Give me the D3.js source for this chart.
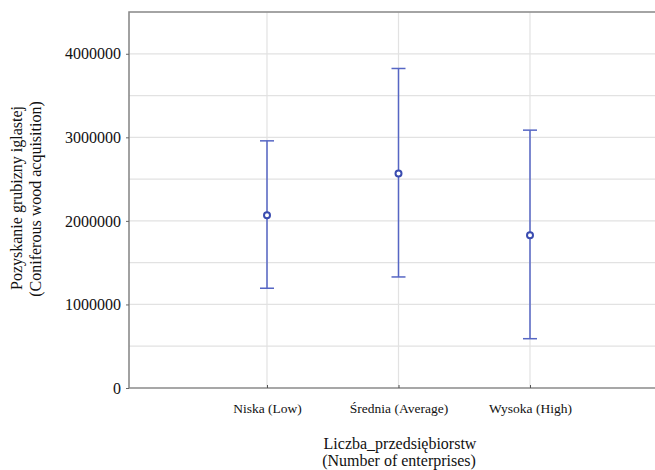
<!DOCTYPE html>
<html>
<head>
<meta charset="utf-8">
<script src="https://cdn.jsdelivr.net/npm/d3@7"></script>
</head>
<body style="margin:0;background:#fff">
<div id="chart"></div>
<script>
// Data
const categories = ["Niska (Low)", "Średnia (Average)", "Wysoka (High)"];
const means = [2068000, 2566000, 1829000];
const lower = [1194000, 1329000, 590000];
const upper = [2958000, 3824000, 3086000];
const yTicks = [0, 1000000, 2000000, 3000000, 4000000];
const yGrid = d3.range(500000, 4500001, 500000);

const width = 655;
const height = 470;
const margin = { top: 12, bottom: 82, left: 129 };
const serif = "Liberation Serif";

const svg = d3.select("#chart").append("svg")
    .attr("width", width)
    .attr("height", height);

const y = d3.scaleLinear()
    .domain([0, 4500000])
    .range([height - margin.bottom, margin.top]);

const x = d3.scalePoint()
    .domain(categories)
    .range([267, 530]);

// grid
svg.append("g").selectAll("line")
    .data(yGrid)
    .enter().append("line")
    .attr("x1", margin.left).attr("x2", width)
    .attr("y1", d => y(d)).attr("y2", d => y(d))
    .attr("stroke", "#e2e2e2").attr("stroke-width", 1.2);

svg.append("g").selectAll("line")
    .data(categories)
    .enter().append("line")
    .attr("x1", d => x(d)).attr("x2", d => x(d))
    .attr("y1", margin.top).attr("y2", y(0))
    .attr("stroke", "#e2e2e2").attr("stroke-width", 1.2);

// frame (right side runs off the picture)
svg.append("path")
    .attr("d", `M${width + 2},${margin.top}H${margin.left}V${y(0)}H${width + 2}`)
    .attr("fill", "none")
    .attr("stroke", "#8a8a8a")
    .attr("stroke-width", 1.6);

// axes
const yAxis = svg.append("g")
    .attr("transform", `translate(${margin.left},0)`)
    .call(d3.axisLeft(y).tickValues(yTicks).tickFormat(d3.format("d")).tickSize(3).tickPadding(5));
yAxis.select(".domain").remove();
yAxis.selectAll(".tick line").attr("stroke", "#666");
yAxis.selectAll("text")
    .attr("font-family", serif).attr("font-size", 16).attr("fill", "#111");

const xAxis = svg.append("g")
    .attr("transform", `translate(0,${y(0)})`)
    .call(d3.axisBottom(x).tickSize(-3).tickPadding(15));
xAxis.select(".domain").remove();
xAxis.selectAll(".tick line").attr("stroke", "#555");
xAxis.selectAll("text")
    .attr("font-family", serif).attr("font-size", 13.5).attr("fill", "#111");

// axis titles
const titles = [
    { text: "Liczba_przedsiębiorstw", t: "translate(400,449)" },
    { text: "(Number of enterprises)", t: "translate(399,466)" },
    { text: "Pozyskanie grubizny iglastej", t: "translate(22,198) rotate(-90)" },
    { text: "(Coniferous wood acquisition)", t: "translate(41,199) rotate(-90)" }
];
svg.append("g").selectAll("text")
    .data(titles)
    .enter().append("text")
    .attr("transform", d => d.t)
    .attr("text-anchor", "middle")
    .attr("font-family", serif)
    .attr("font-size", 16)
    .attr("fill", "#111")
    .text(d => d.text);

// error bars
const lineColor = "#5666c4";
const g = svg.append("g").selectAll("g")
    .data(categories)
    .enter().append("g");

g.append("line")
    .attr("x1", d => x(d)).attr("x2", d => x(d))
    .attr("y1", (d, i) => y(lower[i])).attr("y2", (d, i) => y(upper[i]))
    .attr("stroke", lineColor).attr("stroke-width", 1.5);

g.append("line")
    .attr("x1", d => x(d) - 7).attr("x2", d => x(d) + 7)
    .attr("y1", (d, i) => y(upper[i])).attr("y2", (d, i) => y(upper[i]))
    .attr("stroke", lineColor).attr("stroke-width", 1.5);

g.append("line")
    .attr("x1", d => x(d) - 7).attr("x2", d => x(d) + 7)
    .attr("y1", (d, i) => y(lower[i])).attr("y2", (d, i) => y(lower[i]))
    .attr("stroke", lineColor).attr("stroke-width", 1.5);

g.append("circle")
    .attr("cx", d => x(d))
    .attr("cy", (d, i) => y(means[i]))
    .attr("r", 3)
    .attr("fill", "#fff")
    .attr("stroke", "#3a4cb0")
    .attr("stroke-width", 2);
</script>
</body>
</html>
